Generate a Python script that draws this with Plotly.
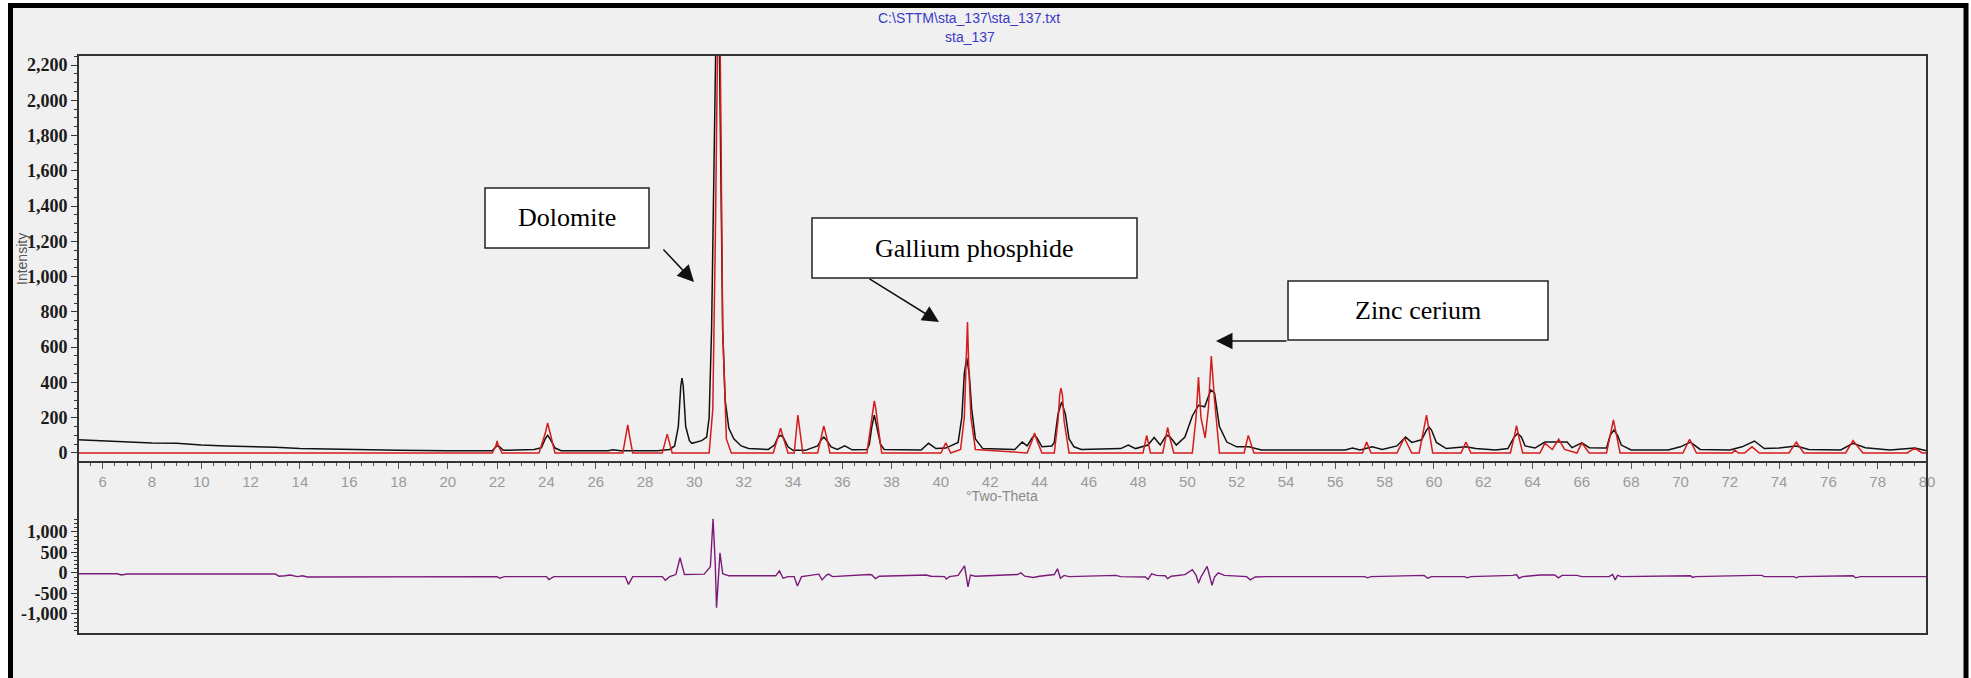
import plotly.graph_objects as go

# ---------------- data ----------------
obs_theta = [5.0, 6.0, 7.0, 8.0, 9.0, 10.0, 11.0, 12.0, 13.0, 14.0, 15.0, 16.0, 18.0, 20.0,
             21.8, 21.95, 22.05, 22.25, 23.0, 23.5, 23.8, 23.95, 24.05, 24.15, 24.35, 24.6,
             26.5, 26.7, 27.0, 28.5, 29.0, 29.2, 29.35, 29.45, 29.5, 29.55, 29.65, 29.8,
             29.9, 30.3, 30.5, 30.6, 30.7, 30.78, 30.85, 30.9, 31.0, 31.08, 31.15, 31.25,
             31.4, 31.6, 31.9, 32.2, 33.0, 33.25, 33.4, 33.5, 33.6, 33.8, 34.0, 34.5, 35.0,
             35.15, 35.25, 35.35, 35.55, 35.8, 36.1, 36.4, 37.0, 37.1, 37.2, 37.3, 37.4,
             37.55, 37.7, 39.2, 39.5, 39.8, 40.2, 40.7, 40.85, 40.95, 41.05, 41.15, 41.25,
             41.4, 41.7, 43.0, 43.3, 43.5, 43.7, 43.8, 43.9, 44.1, 44.5, 44.6, 44.75, 44.9,
             45.05, 45.2, 45.4, 45.7, 47.3, 47.6, 47.9, 48.4, 48.65, 48.9, 49.1, 49.2, 49.3,
             49.55, 49.9, 50.2, 50.45, 50.7, 50.95, 51.1, 51.3, 51.6, 52.0, 52.5, 53.0, 56.4,
             56.7, 57.0, 57.5, 57.9, 58.5, 58.85, 59.1, 59.5, 59.7, 59.8, 59.9, 60.1, 60.5,
             61.3, 61.7, 62.5, 63.0, 63.25, 63.4, 63.55, 63.7, 64.1, 64.5, 65.4, 65.6, 66.0,
             66.3, 67.0, 67.15, 67.3, 67.45, 67.6, 68.0, 69.5, 70.0, 70.4, 70.8, 72.0, 72.5,
             73.0, 73.4, 74.0, 74.7, 75.2, 76.5, 77.0, 77.5, 78.5, 79.5, 80.0]
obs_counts = [75, 68, 62, 57, 55, 45, 40, 38, 32, 25, 22, 18, 15, 13,
              13, 35, 42, 15, 18, 20, 30, 80, 100, 80, 28, 13,
              13, 18, 13, 13, 20, 40, 150, 380, 425, 380, 150, 70,
              55, 70, 90, 200, 700, 1400, 2000, 2600, 2500, 1300, 700, 300,
              140, 80, 40, 25, 20, 45, 90, 100, 90, 35, 15, 15, 40,
              75, 90, 75, 35, 20, 40, 18, 20, 50, 150, 215, 150,
              50, 20, 17, 55, 25, 28, 60, 200, 450, 540, 450, 250,
              80, 25, 20, 62, 40, 85, 100, 85, 35, 40, 60, 220, 290,
              220, 80, 35, 20, 25, 45, 25, 45, 88, 45, 90, 100, 90,
              45, 90, 210, 270, 262, 357, 340, 150, 62, 35, 35, 17, 17,
              28, 17, 35, 20, 40, 90, 60, 75, 130, 148, 130, 60, 25,
              35, 25, 17, 25, 90, 112, 90, 40, 28, 62, 62, 30, 57,
              30, 28, 100, 130, 100, 45, 17, 17, 35, 62, 20, 17, 35,
              68, 25, 28, 40, 20, 17, 55, 30, 17, 28, 12]

calc_theta = [5.0, 21.8, 21.95, 22.0, 22.05, 22.2, 23.7, 23.95, 24.05, 24.15, 24.35, 27.1,
              27.22, 27.3, 27.38, 27.5, 28.7, 28.83, 28.9, 28.97, 29.1, 30.6, 30.75, 30.85,
              30.93, 31.0, 31.07, 31.15, 31.3, 31.5, 33.2, 33.4, 33.5, 33.6, 33.8, 34.05,
              34.13, 34.2, 34.27, 34.4, 35.0, 35.15, 35.25, 35.35, 35.5, 37.0, 37.15, 37.25,
              37.3, 37.35, 37.45, 37.6, 40.0, 40.2, 40.4, 40.8, 40.95, 41.03, 41.08, 41.13,
              41.22, 41.4, 43.5, 43.7, 43.8, 43.9, 44.1, 44.6, 44.75, 44.82, 44.87, 44.93,
              45.0, 45.2, 48.2, 48.35, 48.5, 49.0, 49.12, 49.2, 49.28, 49.45, 50.2, 50.35,
              50.45, 50.55, 50.72, 50.85, 50.97, 51.1, 51.3, 52.3, 52.47, 52.7, 57.1, 57.27,
              57.45, 58.5, 58.8, 59.1, 59.4, 59.6, 59.7, 59.8, 59.95, 61.1, 61.3, 61.5, 63.1,
              63.27, 63.35, 63.43, 63.6, 64.3, 64.5, 64.8, 65.06, 65.3, 65.8, 66.0, 66.3,
              67.0, 67.18, 67.28, 67.38, 67.55, 70.1, 70.37, 70.65, 72.1, 72.2, 72.35, 72.6,
              72.9, 73.2, 74.4, 74.7, 75.0, 76.7, 77.0, 77.4, 79.2, 79.5, 79.8, 80.0]
calc_counts = [0, 0, 40, 68, 40, 0, 0, 110, 170, 110, 0, 0,
               90, 160, 90, 0, 0, 70, 107, 70, 0, 0, 250, 1200,
               2600, 3000, 2000, 700, 80, 0, 0, 90, 140, 90, 0, 0,
               140, 215, 140, 0, 0, 100, 153, 100, 0, 0, 150, 260,
               295, 260, 150, 0, 0, 57, 0, 20, 200, 500, 742, 500,
               200, 20, 0, 70, 113, 70, 0, 0, 180, 330, 368, 330,
               180, 0, 0, 100, 0, 0, 90, 145, 90, 0, 0, 200,
               430, 200, 85, 250, 550, 300, 0, 0, 100, 0, 0, 62,
               0, 0, 85, 0, 0, 130, 215, 130, 0, 0, 62, 0, 0,
               100, 155, 100, 0, 0, 55, 20, 78, 20, 0, 57, 0,
               0, 120, 187, 120, 0, 0, 78, 0, 0, 17, 0, 0,
               35, 0, 0, 62, 0, 0, 70, 0, 0, 28, 0, 0]

diff_theta = [5.0, 6.6, 6.75, 7.0, 13.0, 13.15, 13.4, 13.6, 13.9, 14.1, 14.3, 22.0, 22.1,
              22.3, 24.0, 24.1, 24.3, 27.2, 27.33, 27.5, 28.7, 28.82, 29.0, 29.25, 29.42,
              29.6, 30.4, 30.65, 30.76, 30.85, 30.9, 30.97, 31.04, 31.15, 31.4, 33.3, 33.45,
              33.6, 33.8, 34.05, 34.18, 34.35, 35.05, 35.18, 35.35, 35.45, 35.6, 37.1, 37.2,
              37.35, 37.5, 39.4, 39.6, 40.15, 40.22, 40.35, 40.7, 40.96, 41.02, 41.1, 41.2,
              41.4, 43.1, 43.25, 43.4, 43.75, 44.0, 44.6, 44.73, 44.85, 45.0, 45.2, 47.1,
              47.3, 48.3, 48.4, 48.55, 48.75, 49.1, 49.2, 49.35, 49.9, 50.2, 50.35, 50.45,
              50.55, 50.8, 50.9, 51.0, 51.1, 51.25, 51.5, 52.4, 52.55, 52.75, 53.2, 57.2,
              57.3, 57.45, 59.6, 59.75, 59.9, 61.25, 61.35, 61.5, 63.2, 63.35, 63.45, 63.6,
              64.3, 64.9, 65.05, 65.2, 65.8, 66.0, 67.1, 67.25, 67.35, 67.45, 67.6, 70.0,
              70.4, 70.5, 70.6, 73.0, 73.3, 73.4, 74.6, 74.7, 74.8, 77.0, 77.1, 77.3, 80.0]
diff_counts = [-20, -20, -50, -25, -25, -80, -70, -50, -90, -70, -100, -90, -130,
               -90, -90, -160, -90, -90, -280, -90, -90, -180, -90, -40, 370,
               -40, -30, 150, 1320, 200, -850, -200, 490, -20, -70, -70, 50,
               -130, -90, -90, -320, -90, -30, -170, -60, -30, -90, -40, -50,
               -140, -80, -50, -80, -90, -150, -90, -60, 170, -100, -340, -50,
               -80, -40, 0, -80, -110, -80, -40, 100, -130, -60, -90, -60,
               -90, -100, -160, -20, -60, -70, -140, -80, -40, 80, -50, -250,
               -100, 160, -80, -300, -100, 0, -60, -90, -170, -100, -90, -90,
               -120, -90, -60, -130, -90, -90, -120, -90, -60, -40, -130, -90,
               -50, -50, -120, -60, -60, -90, -90, -40, -170, -60, -90, -70,
               -70, -110, -90, -60, -60, -90, -90, -120, -90, -70, -120, -90, -90]

diff_tickvals = [-1000, -500, 0, 500, 1000]
diff_ticktext = ["-1,000", "-500", "0", "500", "1,000"]

title_lines = ["C:\\STTM\\sta_137\\sta_137.txt", "sta_137"]
phase_labels = ["Dolomite", "Gallium phosphide", "Zinc cerium"]

# ---------------- layout helpers (pixel -> paper) ----------------
W, H = 1971, 678
L, R, T, B = 78, 1927, 55, 634
PW, PH = R - L, B - T


def px(x):
    return (x - L) / PW


def py(y):
    return (B - y) / PH


fig = go.Figure()
fig.add_trace(go.Scatter(x=obs_theta, y=obs_counts, mode="lines",
                         line=dict(color="#111111", width=1.5), xaxis="x", yaxis="y",
                         showlegend=False))
fig.add_trace(go.Scatter(x=calc_theta, y=calc_counts, mode="lines",
                         line=dict(color="#d41c1c", width=1.5), xaxis="x", yaxis="y",
                         showlegend=False))
fig.add_trace(go.Scatter(x=diff_theta, y=diff_counts, mode="lines",
                         line=dict(color="#7a1a7a", width=1.4), xaxis="x2", yaxis="y2",
                         showlegend=False))

serif_bold = dict(family="Liberation Serif, Times New Roman, serif", size=18,
                  color="#1a1a1a", weight="bold")

fig.update_layout(
    width=W, height=H,
    margin=dict(l=L, r=W - R, t=T, b=H - B, pad=0, autoexpand=False),
    paper_bgcolor="white",
    plot_bgcolor="rgba(0,0,0,0)",
    showlegend=False,
    xaxis=dict(domain=[0, 1], range=[5, 80], anchor="y", dtick=2, tick0=0,
               automargin=False,
               ticks="outside", ticklen=6, tickwidth=1, tickcolor="#555",
               minor=dict(dtick=0.5, ticks="outside", ticklen=3, tickcolor="#555"),
               showline=True, linecolor="#333", linewidth=2,
               showgrid=False, zeroline=False,
               tickfont=dict(family="Liberation Sans, Arial, sans-serif", size=15,
                             color="#9a9a9a")),
    yaxis=dict(domain=[py(461), 1], range=[-45.4, 2256.7], anchor="x", dtick=200,
               automargin=False,
               tick0=0, tickformat=",d", ticks="outside", ticklen=6, tickwidth=1,
               tickcolor="#333",
               minor=dict(dtick=50, ticks="outside", ticklen=3, tickcolor="#333"),
               showline=False, showgrid=False, zeroline=False, tickfont=serif_bold),
    xaxis2=dict(domain=[0, 1], range=[5, 80], anchor="y2", showticklabels=False,
                automargin=False,
                ticks="", showline=False, showgrid=False, zeroline=False),
    yaxis2=dict(domain=[0, py(518)], range=[-1490, 1340], anchor="x2",
                automargin=False,
                tickvals=diff_tickvals, ticktext=diff_ticktext,
                ticks="outside", ticklen=6, tickwidth=1, tickcolor="#333",
                minor=dict(dtick=100, ticks="outside", ticklen=3, tickcolor="#333"),
                showline=False, showgrid=False, zeroline=False, tickfont=serif_bold),
)

shapes = [
    # outer window frame with light grey face
    dict(type="rect", xref="paper", yref="paper", x0=px(10.5), x1=px(1966),
         y0=py(700), y1=py(5.5), fillcolor="#f0f0f0",
         line=dict(color="black", width=5), layer="below"),
    # plot frame
    dict(type="rect", xref="paper", yref="paper", x0=0, x1=1, y0=0, y1=1,
         line=dict(color="#333", width=2), layer="above"),
]
boxes = [(485, 188, 649, 248), (812, 218, 1137, 278), (1288, 281, 1548, 340)]
for (x0, y0, x1, y1) in boxes:
    shapes.append(dict(type="rect", xref="paper", yref="paper", x0=px(x0), x1=px(x1),
                       y0=py(y1), y1=py(y0), fillcolor="white",
                       line=dict(color="#222", width=1.5), layer="above"))
fig.update_layout(shapes=shapes)

annotations = []
# title
annotations.append(dict(xref="paper", yref="paper", x=px(969), y=py(18), text=title_lines[0],
                        showarrow=False, xanchor="center", yanchor="middle",
                        font=dict(family="Liberation Sans, Arial, sans-serif", size=14,
                                  color="#3a3ac8")))
annotations.append(dict(xref="paper", yref="paper", x=px(970), y=py(37), text=title_lines[1],
                        showarrow=False, xanchor="center", yanchor="middle",
                        font=dict(family="Liberation Sans, Arial, sans-serif", size=14,
                                  color="#3a3ac8")))
# axis titles
annotations.append(dict(xref="paper", yref="paper", x=px(1002), y=py(496), text="°Two-Theta",
                        showarrow=False, xanchor="center", yanchor="middle",
                        font=dict(family="Liberation Sans, Arial, sans-serif", size=14,
                                  color="#8a8a8a")))
annotations.append(dict(xref="paper", yref="paper", x=px(22), y=py(259), text="Intensity",
                        showarrow=False, xanchor="center", yanchor="middle", textangle=-90,
                        font=dict(family="Liberation Sans, Arial, sans-serif", size=14,
                                  color="#555")))
# phase labels
centers = [(567, 218), (974.5, 248), (1418, 310.5)]
for lab, (cx, cy) in zip(phase_labels, centers):
    annotations.append(dict(xref="paper", yref="paper", x=px(cx), y=py(cy), text=lab,
                            showarrow=False, xanchor="center", yanchor="middle",
                            font=dict(family="Liberation Serif, Times New Roman, serif",
                                      size=26, color="black")))
# arrows (head, tail)
arrows = [((694, 282), (662, 248)), ((939, 322), (868, 278)), ((1216, 341), (1288, 341))]
for (hx, hy), (tx, ty) in arrows:
    annotations.append(dict(xref="paper", yref="paper", x=px(hx), y=py(hy), text="",
                            showarrow=True, axref="pixel", ayref="pixel",
                            ax=tx - hx, ay=ty - hy, arrowhead=2, arrowsize=2.2,
                            arrowwidth=1.5, arrowcolor="#111"))
fig.update_layout(annotations=annotations)

fig.write_html("out.html",
               config={"displayModeBar": False},
               post_script="document.body.style.margin='0px';"
                           "document.body.style.overflow='hidden';")
